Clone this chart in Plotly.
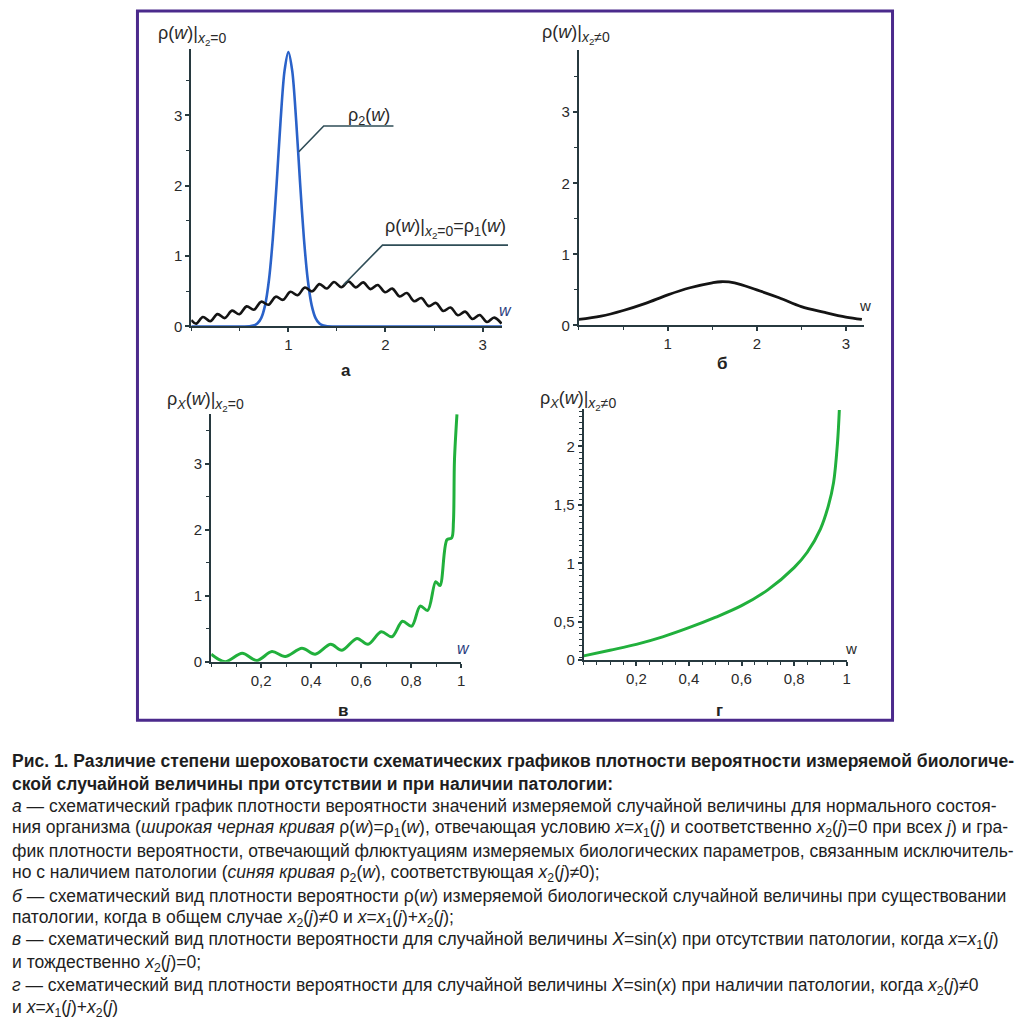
import plotly.graph_objects as go

W, H = 1031, 1028


def px(x):
    return x / W


def py(y):
    return 1 - y / H


# ---------------- DATA ----------------
# panel а : wide black rough curve rho1(w) (read at ripple peaks / troughs)
a_w1 = [0.0, 0.05, 0.12, 0.195, 0.27, 0.345, 0.42, 0.495, 0.57, 0.645, 0.72, 0.795,
        0.87, 0.945, 1.02, 1.095, 1.17, 1.245, 1.32, 1.395, 1.47, 1.545, 1.62, 1.695,
        1.77, 1.845, 1.92, 1.995, 2.07, 2.145, 2.22, 2.295, 2.37, 2.445, 2.52, 2.595,
        2.67, 2.745, 2.82, 2.895, 2.97, 3.045, 3.12, 3.195]
a_rho1 = [0.09, 0.04, 0.135, 0.074, 0.175, 0.119, 0.225, 0.174, 0.285, 0.238, 0.352, 0.308,
          0.423, 0.378, 0.492, 0.444, 0.553, 0.499, 0.602, 0.539, 0.631, 0.558, 0.640, 0.555,
          0.626, 0.531, 0.590, 0.486, 0.538, 0.427, 0.474, 0.359, 0.404, 0.289, 0.334, 0.220,
          0.269, 0.159, 0.211, 0.106, 0.163, 0.063, 0.126, 0.040]

# panel а : narrow blue curve rho2(w)
a_w2 = [0.0, 0.55, 0.6, 0.64, 0.68, 0.72, 0.76, 0.80, 0.84, 0.88, 0.92, 0.96, 1.0,
        1.04, 1.08, 1.12, 1.16, 1.20, 1.24, 1.28, 1.32, 1.36, 1.40, 1.45, 3.2]
a_rho2 = [0.0, 0.0, 0.003, 0.012, 0.041, 0.119, 0.30, 0.66, 1.25, 2.05, 2.93, 3.63, 3.9,
          3.63, 2.93, 2.05, 1.25, 0.66, 0.30, 0.119, 0.041, 0.012, 0.003, 0.0, 0.0]

# panel б : smooth black curve
b_w = [0.0, 0.25, 0.5, 0.75, 1.0, 1.25, 1.5, 1.6, 1.75, 2.0, 2.25, 2.5, 2.75, 3.0, 3.18]
b_rho = [0.084, 0.13, 0.21, 0.31, 0.43, 0.53, 0.60, 0.615, 0.60, 0.50, 0.39, 0.265, 0.186, 0.116, 0.084]

# panel в : rough green curve rho_X(w), x2 = 0
c_w = [0.0, 0.056, 0.124, 0.183, 0.243, 0.296, 0.363, 0.416, 0.478, 0.523, 0.583, 0.627,
       0.68, 0.723, 0.765, 0.802, 0.836, 0.866, 0.898, 0.915, 0.943, 0.962, 0.969, 0.973, 0.983]
c_rho = [0.115, 0.0, 0.13, 0.02, 0.155, 0.08, 0.205, 0.115, 0.265, 0.175, 0.355, 0.265,
         0.455, 0.38, 0.615, 0.54, 0.845, 0.78, 1.215, 1.155, 1.85, 1.88, 2.13, 3.05, 3.75]

# panel г : smooth green curve rho_X(w), x2 != 0
d_w = [0.0, 0.1, 0.2, 0.3, 0.4, 0.5, 0.6, 0.7, 0.8, 0.85, 0.9, 0.93, 0.95, 0.965, 0.972]
d_rho = [0.212, 0.26, 0.31, 0.374, 0.452, 0.54, 0.64, 0.775, 0.965, 1.096, 1.294, 1.49, 1.69, 2.03, 2.31]

# tick labels
ab_xticks = [1, 2, 3]
ab_yticks = [0, 1, 2, 3]
cd_xticks = [0.2, 0.4, 0.6, 0.8, 1.0]
cd_xtext = ["0,2", "0,4", "0,6", "0,8", "1"]
c_yticks = [0, 1, 2, 3]
d_yticks = [0.178, 0.5, 1.0, 1.5, 2.0]
d_ytext = ["0", "0,5", "1", "1,5", "2"]

# ---------------- FIGURE ----------------
BLACK = "#141414"
BLUE = "#2a62c9"
GREEN = "#21b03c"
AXIS = "#27393f"
TXT = "#2a2a2a"
FONT = "Liberation Sans, Arial, sans-serif"

fig = go.Figure()
fig.add_trace(go.Scatter(x=a_w2, y=a_rho2, xaxis="x", yaxis="y", mode="lines",
                         line=dict(color=BLUE, width=2.6, shape="spline", smoothing=0.8)))
fig.add_trace(go.Scatter(x=a_w1, y=a_rho1, xaxis="x", yaxis="y", mode="lines",
                         line=dict(color=BLACK, width=2.6, shape="spline", smoothing=1.0)))
fig.add_trace(go.Scatter(x=b_w, y=b_rho, xaxis="x2", yaxis="y2", mode="lines",
                         line=dict(color=BLACK, width=2.8, shape="spline", smoothing=1.0)))
fig.add_trace(go.Scatter(x=c_w, y=c_rho, xaxis="x3", yaxis="y3", mode="lines",
                         line=dict(color=GREEN, width=3, shape="spline", smoothing=0.9)))
fig.add_trace(go.Scatter(x=d_w, y=d_rho, xaxis="x4", yaxis="y4", mode="lines",
                         line=dict(color=GREEN, width=3, shape="spline", smoothing=1.0)))


def axis(domain, rng, anchor, tickvals, ticktext=None, minor_dtick=None, minor_tick0=0):
    d = dict(domain=domain, range=rng, anchor=anchor, showline=True, linecolor=AXIS,
             linewidth=2, showgrid=False, zeroline=False, ticks="outside", ticklen=4,
             tickwidth=1.5, tickcolor=AXIS, tickvals=tickvals,
             ticktext=ticktext if ticktext is not None else [str(v) for v in tickvals],
             tickfont=dict(family=FONT, size=15, color=TXT), fixedrange=True)
    if minor_dtick:
        d["minor"] = dict(dtick=minor_dtick, tick0=minor_tick0, ticks="outside", ticklen=3,
                          tickwidth=1.2, tickcolor=AXIS, showgrid=False)
    return d


fig.update_layout(
    width=W, height=H, margin=dict(l=0, r=0, t=0, b=0),
    paper_bgcolor="white", plot_bgcolor="rgba(0,0,0,0)", showlegend=False,
    xaxis=axis([px(192), px(504)], [0, 3.2], "y", ab_xticks, minor_dtick=0.5),
    yaxis=axis([py(329), py(49)], [0, 3.95], "x", ab_yticks, minor_dtick=0.5),
    xaxis2=axis([px(581), px(867)], [0, 3.2], "y2", ab_xticks, minor_dtick=0.5),
    yaxis2=axis([py(328), py(50)], [0, 3.88], "x2", ab_yticks, minor_dtick=0.5),
    xaxis3=axis([px(212), px(463)], [0, 1.0], "y3", cd_xticks, cd_xtext, minor_dtick=0.1),
    yaxis3=axis([py(667), py(417)], [0, 3.76], "x3", c_yticks, minor_dtick=0.5),
    xaxis4=axis([px(586), px(850)], [0, 1.0], "y4", cd_xticks, cd_xtext, minor_dtick=0.05),
    yaxis4=axis([py(665), py(412)], [0.178, 2.32], "x4", d_yticks, d_ytext,
                minor_dtick=0.05, minor_tick0=0.0),
)

shapes = [
    # purple frame
    dict(type="rect", xref="paper", yref="paper", x0=px(138), x1=px(896), y0=py(11), y1=py(726),
         line=dict(color="#4b2a8c", width=3)),
    # callout to rho2
    dict(type="path", xref="paper", yref="paper",
         path=f"M {px(300)},{py(153)} L {px(325)},{py(127)} L {px(395)},{py(127)}",
         line=dict(color="#2f4d57", width=1.6)),
    # callout to rho1
    dict(type="path", xref="paper", yref="paper",
         path=f"M {px(345)},{py(287)} L {px(384)},{py(247)} L {px(510)},{py(247)}",
         line=dict(color="#2f4d57", width=1.6)),
]

ann = []


def text(x, y, s, size=15, color=TXT, xanchor="center", yanchor="middle", family=FONT):
    ann.append(dict(xref="paper", yref="paper", x=px(x), y=py(y), text=s, showarrow=False,
                    xanchor=xanchor, yanchor=yanchor, align="left",
                    font=dict(family=family, size=size, color=color)))


SUB0 = "<sub><span style='font-size:14px'><i>x</i><sub>2</sub>=0</span></sub>"
SUBN = "<sub><span style='font-size:14px'><i>x</i><sub>2</sub>≠0</span></sub>"
# axis titles
text(157, 36, "ρ(<i>w</i>)|" + SUB0, size=18, xanchor="left")
text(542, 35, "ρ(<i>w</i>)|" + SUBN, size=18, xanchor="left")
text(166, 405, "ρ<sub><i>X</i></sub>(<i>w</i>)|" + SUB0, size=18, xanchor="left")
text(540, 404, "ρ<sub><i>X</i></sub>(<i>w</i>)|" + SUBN, size=18, xanchor="left")
# curve labels
text(370, 117, "ρ<sub>2</sub>(<i>w</i>)", size=18)
text(447, 230, "ρ(<i>w</i>)|" + SUB0 + "=ρ<sub>1</sub>(<i>w</i>)", size=18)
# w labels
text(507, 313, "<i>w</i>", size=16, color="#2b3d80")
text(868, 308, "w", size=15)
text(465, 654, "<i>w</i>", size=16, color="#2b3d80")
text(854, 654, "w", size=15)
# panel letters
text(347, 373, "<b>а</b>", size=17, color="#222")
text(725, 366, "<b>б</b>", size=17, color="#222")
text(344, 716, "<b>в</b>", size=17, color="#222")
text(722, 716, "<b>г</b>", size=17, color="#222")

CAP = "Liberation Sans, Arial, sans-serif"
caption = [
    "<b>Рис. 1. Различие степени шероховатости схематических графиков плотности вероятности измеряемой биологиче-</b>",
    "<b>ской случайной величины при отсутствии и при наличии патологии:</b>",
    "<i>а</i> — схематический график плотности вероятности значений измеряемой случайной величины для нормального состоя-",
    "ния организма (<i>широкая черная кривая</i> ρ(<i>w</i>)=ρ<sub>1</sub>(<i>w</i>), отвечающая условию <i>x</i>=<i>x</i><sub>1</sub>(<i>j</i>) и соответственно <i>x</i><sub>2</sub>(<i>j</i>)=0 при всех <i>j</i>) и гра-",
    "фик плотности вероятности, отвечающий флюктуациям измеряемых биологических параметров, связанным исключитель-",
    "но с наличием патологии (<i>синяя кривая</i> ρ<sub>2</sub>(<i>w</i>), соответствующая <i>x</i><sub>2</sub>(<i>j</i>)≠0);",
    "<i>б</i> — схематический вид плотности вероятности ρ(<i>w</i>) измеряемой биологической случайной величины при существовании",
    "патологии, когда в общем случае <i>x</i><sub>2</sub>(<i>j</i>)≠0 и <i>x</i>=<i>x</i><sub>1</sub>(<i>j</i>)+<i>x</i><sub>2</sub>(<i>j</i>);",
    "<i>в</i> — схематический вид плотности вероятности для случайной величины <i>X</i>=sin(<i>x</i>) при отсутствии патологии, когда <i>x</i>=<i>x</i><sub>1</sub>(<i>j</i>)",
    "и тождественно <i>x</i><sub>2</sub>(<i>j</i>)=0;",
    "<i>г</i> — схематический вид плотности вероятности для случайной величины <i>X</i>=sin(<i>x</i>) при наличии патологии, когда <i>x</i><sub>2</sub>(<i>j</i>)≠0",
    "и <i>x</i>=<i>x</i><sub>1</sub>(<i>j</i>)+<i>x</i><sub>2</sub>(<i>j</i>)",
]
cap_y = [767, 790, 812, 835, 858, 880, 903, 926, 948, 971, 994, 1016]
for s, yy in zip(caption, cap_y):
    text(10, yy, s, size=17.5, color="#1e1e1e", xanchor="left", family=CAP)

fig.update_layout(shapes=shapes, annotations=ann)
fig.write_html("out.html", config={"displayModeBar": False},
               post_script="document.body.style.margin='0';")
